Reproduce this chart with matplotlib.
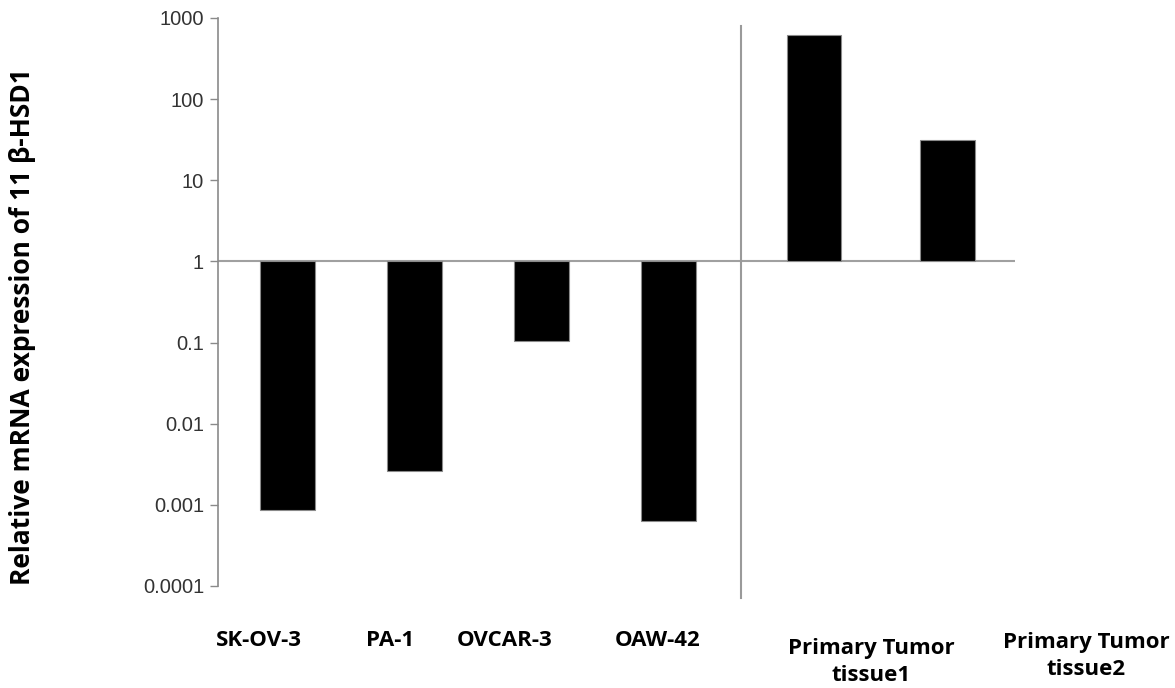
import numpy as np
import matplotlib.pyplot as plt
from matplotlib.ticker import FixedLocator, FixedFormatter

# relative 11beta-HSD1 mRNA expression (log scale, baseline = 1)
cell_lines = ['SK-OV-3', 'PA-1', 'OVCAR-3', 'OAW-42',
              'Primary Tumor\ntissue1', 'Primary Tumor\ntissue2']
expression = [0.00087, 0.0026, 0.105, 0.00064, 615, 31]
positions = [0, 1, 2, 3, 4.15, 5.2]

ytick_vals = [0.0001, 0.001, 0.01, 0.1, 1, 10, 100, 1000]
ytick_labels = ['0.0001', '0.001', '0.01', '0.1', '1', '10', '100', '1000']

fig = plt.figure(figsize=(11.75, 6.88), dpi=100)
ax = fig.add_axes([0.1855, 0.1483, 0.678, 0.8256])

# bars grow from 1 up or down
base = 1.0
heights = [v - base for v in expression]
ax.bar(positions, heights, bottom=base, width=0.43,
       color='black', edgecolor='#8a8a8a', linewidth=0.8, zorder=3)

ax.set_yscale('log')
ax.set_ylim(1e-4, 1e3)
ax.set_xlim(-0.55, 5.73)
ax.yaxis.set_major_locator(FixedLocator(ytick_vals))
ax.yaxis.set_major_formatter(FixedFormatter(ytick_labels))
ax.yaxis.set_minor_locator(FixedLocator([]))
ax.tick_params(axis='y', direction='out', length=6, width=1, color='#8a8a8a',
               labelsize=14.5, labelcolor='#333333', pad=4)
for lab in ax.get_yticklabels():
    lab.set_family('Liberation Sans')
ax.set_xticks([])

for side in ['top', 'right', 'bottom']:
    ax.spines[side].set_visible(False)
ax.spines['left'].set_color('#8a8a8a')
ax.spines['left'].set_linewidth(1.2)

# baseline at 1 and separator between cell lines and tissue
ax.axhline(1, color='#a0a0a0', linewidth=1.5, zorder=2)
sep = (positions[3] + positions[4]) / 2
ax.plot([sep, sep], [-0.021, 0.985], transform=ax.get_xaxis_transform(),
        color='#9a9a9a', linewidth=1.5, clip_on=False, zorder=2)

# category labels under the plot
label_x = [259, 390, 505, 658, 871, 1086]
label_y = [640, 640, 640, 640, 662, 656]
for txt, lx, ly in zip(cell_lines, label_x, label_y):
    fig.text(lx / 1175, 1 - ly / 688, txt, ha='center', va='center',
             fontsize=16, fontweight='bold', family='Open Sans',
             linespacing=1.4)

fig.text(23 / 1175, 1 - 327 / 688, 'Relative mRNA expression of 11 \u03b2-HSD1',
         rotation=90, ha='center', va='center', fontsize=19,
         fontweight='bold', family='Open Sans')

fig.savefig('out.png', dpi=100)
